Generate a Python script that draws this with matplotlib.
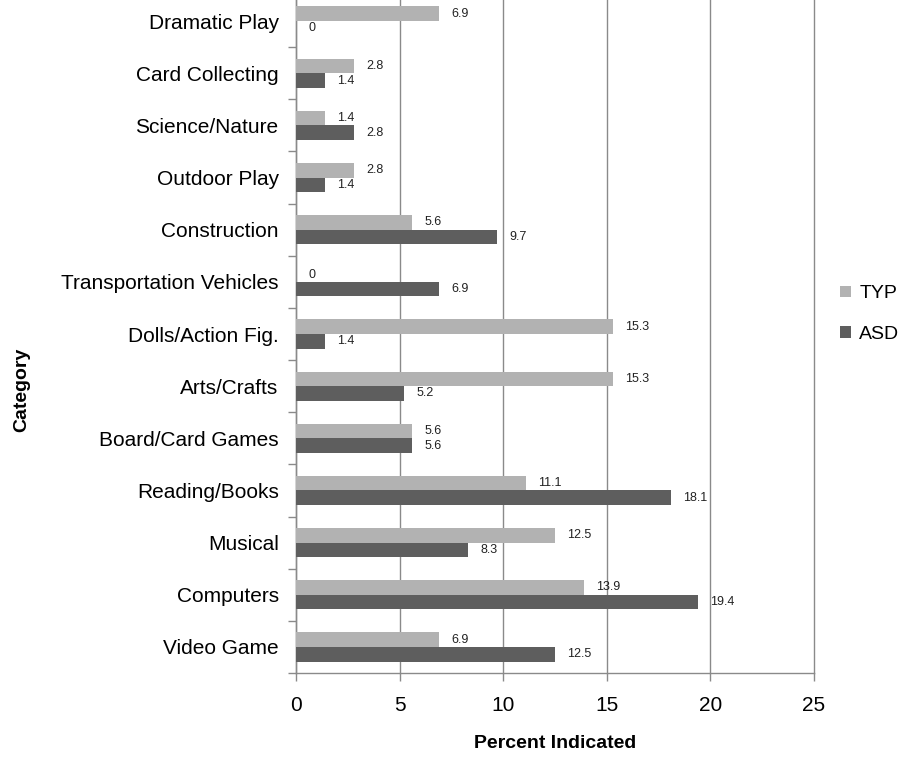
import matplotlib
matplotlib.use("Agg")
import matplotlib.pyplot as plt
import numpy as np

plt.rcParams['font.family'] = ['Liberation Sans', 'DejaVu Sans']

categories = ["Dramatic Play", "Card Collecting", "Science/Nature", "Outdoor Play",
              "Construction", "Transportation Vehicles", "Dolls/Action Fig.",
              "Arts/Crafts", "Board/Card Games", "Reading/Books", "Musical",
              "Computers", "Video Game"]
typ = [6.9, 2.8, 1.4, 2.8, 5.6, 0, 15.3, 15.3, 5.6, 11.1, 12.5, 13.9, 6.9]
asd = [0, 1.4, 2.8, 1.4, 9.7, 6.9, 1.4, 5.2, 5.6, 18.1, 8.3, 19.4, 12.5]
x_ticks = [0, 5, 10, 15, 20, 25]

TYP_COLOR = "#b2b2b2"
ASD_COLOR = "#5e5e5e"
AXIS_GRAY = "#8a8a8a"

fig = plt.figure(figsize=(9.05, 7.58), dpi=100)
# plot area runs slightly past the top edge of the figure
ax = fig.add_axes([296 / 905, (758 - 673) / 758, 518 / 905, 678 / 758])

n = len(categories)
y = np.arange(n)[::-1]
h = 0.28
ax.barh(y + h / 2, typ, height=h, color=TYP_COLOR, label="TYP", zorder=3)
ax.barh(y - h / 2, asd, height=h, color=ASD_COLOR, label="ASD", zorder=3)

for yi, v in zip(y, typ):
    ax.annotate(f"{v:g}", (v, yi + h / 2), xytext=(9, 0), textcoords="offset points",
                ha="left", va="center", fontsize=9, color="#222222")
for yi, v in zip(y, asd):
    ax.annotate(f"{v:g}", (v, yi - h / 2), xytext=(9, 0), textcoords="offset points",
                ha="left", va="center", fontsize=9, color="#222222")

ax.set_xlim(0, 25)
ax.set_ylim(-0.5, n - 0.5)
ax.set_xticks(x_ticks)
ax.set_xticklabels([str(t) for t in x_ticks], fontsize=15)
ax.set_yticks(y)
ax.set_yticklabels(categories, fontsize=15)
ax.tick_params(axis="y", length=0, pad=12.5)
ax.set_yticks(np.arange(n + 1) - 0.5, minor=True)
ax.tick_params(axis="y", which="minor", length=6, color=AXIS_GRAY, width=1)
ax.tick_params(axis="x", length=6, color=AXIS_GRAY, width=1, pad=10.5, direction="out")

ax.xaxis.grid(True, color=AXIS_GRAY, linewidth=1, zorder=0)
for gl in ax.get_xgridlines():
    gl.set_clip_on(False)
ax.set_axisbelow(True)
for s in ["top", "right"]:
    ax.spines[s].set_visible(False)
for s in ["left", "bottom"]:
    ax.spines[s].set_color(AXIS_GRAY)
    ax.spines[s].set_linewidth(1)

fig.text(555 / 905, 1 - 743 / 758, "Percent Indicated", ha="center", va="center",
         fontsize=14, fontweight="bold")
fig.text(22 / 905, 1 - 390 / 758, "Category", ha="center", va="center",
         fontsize=14, fontweight="bold", rotation=90)

leg = fig.legend(loc="center left", bbox_to_anchor=(840 / 905, 1 - 314 / 758),
                 frameon=False, fontsize=14, handlelength=0.55, handleheight=0.55,
                 handletextpad=0.45, labelspacing=1.2, borderpad=0,
                 borderaxespad=0)

fig.savefig("out.png", dpi=100)
